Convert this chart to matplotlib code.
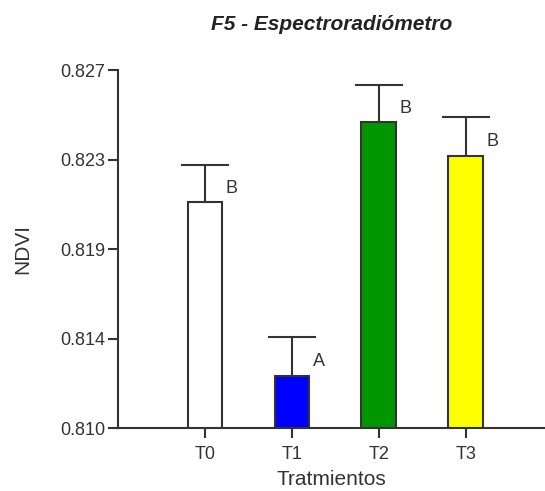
import numpy as np
import matplotlib.pyplot as plt

plt.rcParams['font.family'] = ['Liberation Sans', 'DejaVu Sans']

# NDVI means per treatment, standard errors and significance groups
tratamientos = ["T0", "T1", "T2", "T3"]
ndvi = [0.82072, 0.81247, 0.82452, 0.82293]
error = [0.00178, 0.00187, 0.00177, 0.00185]
grupos = ["B", "A", "B", "B"]
colores = ["#ffffff", "#0000ff", "#009600", "#ffff00"]

fig = plt.figure(figsize=(5.45, 4.91), dpi=100)
ax = fig.add_axes([0.2165, 0.1283, 0.7835, 0.7291])

x = np.arange(1, len(tratamientos) + 1)
ax.bar(x, ndvi, width=0.4, bottom=0, color=colores, edgecolor="#333333",
       linewidth=1.5, zorder=2)
_, caps, _ = ax.errorbar(x, ndvi, yerr=[np.zeros(len(x)), error], fmt="none",
                         ecolor="#333333", elinewidth=1.5, capsize=17.5,
                         capthick=1.5, zorder=1)
# only the upper cap is drawn
for c in caps:
    if np.allclose(c.get_ydata(), ndvi):
        c.set_visible(False)

for xi, v, g in zip(x, ndvi, grupos):
    ax.text(xi + 0.31, v + 0.00067, g, ha="center", va="center",
            fontsize=13, color="#333333")

ymin, ymax = 0.810, 0.827
ax.set_ylim(ymin, ymax)
ax.set_xlim(0, 4.91)
ticks = np.linspace(ymin, ymax, 5)
ax.set_yticks(ticks)
ax.set_yticklabels([f"{t:.3f}" for t in ticks])
ax.set_xticks(x)
ax.set_xticklabels(tratamientos)

for s in ["top", "right"]:
    ax.spines[s].set_visible(False)
for s in ["left", "bottom"]:
    ax.spines[s].set_color("#333333")
    ax.spines[s].set_linewidth(1.5)
ax.tick_params(axis="both", direction="out", length=7, width=1.5,
               color="#333333", labelsize=13, labelcolor="#333333", pad=2)
ax.tick_params(axis="x", pad=6)

ax.set_ylabel("NDVI", fontsize=15, color="#333333", labelpad=20)
ax.set_xlabel("Tratmientos", fontsize=15, color="#333333", labelpad=5)
ax.set_title("F5 - Espectroradiómetro", fontsize=15, fontweight="bold",
             fontstyle="italic", color="#222222", pad=29)

fig.savefig("out.png", dpi=100)
